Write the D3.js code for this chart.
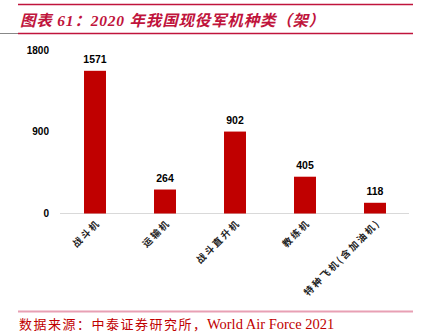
<!DOCTYPE html>
<html><head><meta charset="utf-8">
<script src="https://cdn.jsdelivr.net/npm/d3@7"></script>
<style>body{margin:0;background:#fff}svg{display:block}</style>
</head><body>
<script>
const categories = ["战斗机","运输机","战斗直升机","教练机","特种飞机(含加油机)"];
const values = [1571,264,902,405,118];
const yTicks = [0,900,1800];
const titleText = "图表 61：2020 年我国现役军机种类（架）";
const sourceCn = "数据来源：中泰证券研究所，";
const sourceEn = "World Air Force 2021";

const W=421,H=333;
const svg=d3.select("body").append("svg").attr("width",W).attr("height",H);
const red="#C00000", crimson="#C0143C";

// header lines
svg.append("line").attr("x1",18).attr("x2",413).attr("y1",4.5).attr("y2",4.5).attr("stroke",crimson).attr("stroke-width",1.6);
svg.append("line").attr("x1",18).attr("x2",413).attr("y1",33.5).attr("y2",33.5).attr("stroke",crimson).attr("stroke-width",1.6);
svg.append("line").attr("x1",0).attr("x2",18).attr("y1",33.5).attr("y2",33.5).attr("stroke","#888").attr("stroke-width",1);
svg.append("text").attr("x",20).attr("y",25.5).attr("fill",crimson)
  .attr("font-family","'Liberation Serif','DejaVu Serif','Noto Sans CJK SC',serif")
  .attr("font-style","italic").attr("font-weight","bold").attr("font-size",15.5)
  .attr("letter-spacing",0.8)
  .text(titleText);

// chart
const x=d3.scaleBand().domain(categories).range([60,410]).paddingInner(0.686).paddingOuter(0.343);
const y=d3.scaleLinear().domain([0,1800]).range([213.5,50]);

svg.append("line").attr("x1",60).attr("x2",409).attr("y1",y(0)).attr("y2",y(0)).attr("stroke","#d9d9d9").attr("stroke-width",1);

const yAxis=d3.axisLeft(y).tickValues(yTicks).tickSize(0).tickPadding(0).tickFormat(d3.format("d"));
const ga=svg.append("g").attr("transform","translate(49,0)").call(yAxis);
ga.select(".domain").remove();
ga.selectAll("text").attr("font-family","'Liberation Sans',Arial,sans-serif").attr("font-weight","bold").attr("font-size",10).attr("fill","#000");

svg.selectAll("rect.bar").data(values).join("rect").attr("class","bar")
  .attr("x",(d,i)=>x(categories[i])).attr("width",x.bandwidth())
  .attr("y",d=>y(d)).attr("height",d=>y(0)-y(d)).attr("fill",red);

svg.selectAll("text.val").data(values).join("text").attr("class","val")
  .attr("x",(d,i)=>x(categories[i])+x.bandwidth()/2).attr("y",d=>y(d)-8)
  .attr("text-anchor","middle").attr("font-family","'Liberation Sans',Arial,sans-serif")
  .attr("font-weight","bold").attr("font-size",10.5).attr("fill","#000").text(d=>d);

svg.selectAll("text.cat").data(categories).join("text").attr("class","cat")
  .attr("transform",d=>`translate(${x(d)+x.bandwidth()/2+6},${y(0)+10}) rotate(-45)`)
  .attr("text-anchor","end").attr("font-family","'Noto Sans CJK SC',sans-serif")
  .attr("font-weight","bold").attr("font-size",9.5).attr("letter-spacing",2).attr("fill","#222")
  .text(d=>d);

// footer
svg.append("line").attr("x1",18).attr("x2",413).attr("y1",311.5).attr("y2",311.5).attr("stroke","#E8A0B4").attr("stroke-width",2);
const ft=svg.append("text").attr("x",19).attr("y",329).attr("fill",red)
  .attr("font-family","'Liberation Serif','Noto Sans CJK SC',serif").attr("font-size",13);
ft.append("tspan").attr("letter-spacing",1.5).text(sourceCn);
ft.append("tspan").attr("x",207).attr("font-size",14.5).text(sourceEn);
</script>
</body></html>
